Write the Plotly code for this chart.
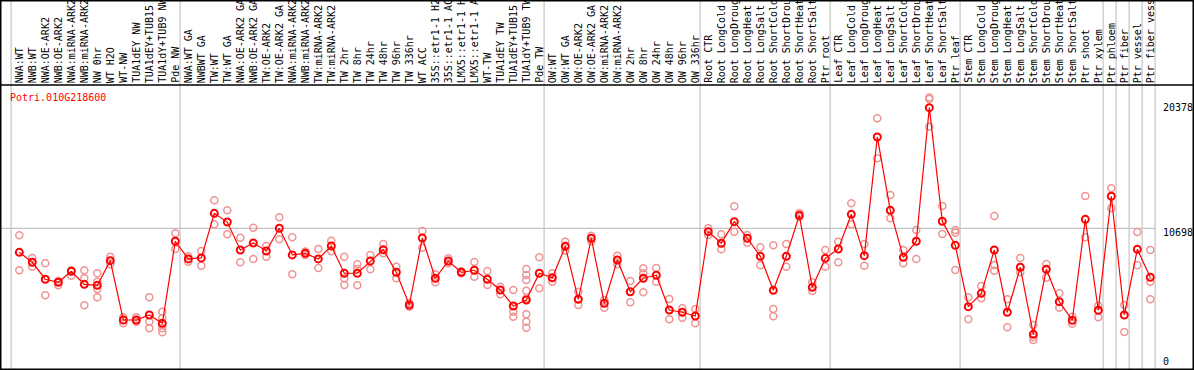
import plotly.graph_objects as go

categories = [
    "NWA:WT", "NWB:WT", "NWA:OE-ARK2", "NWB:OE-ARK2", "NWA:miRNA-ARK2", "NWB:miRNA-ARK2",
    "NW 0hr", "WT H2O", "WT-NW", "TUA1dEY NW", "TUA1dEY+TUB15", "TUA1dY+TUB9 NW", "Pde NW",
    "NWA:WT GA", "NWBWT GA", "TW:WT", "TW:WT GA", "NWA:OE-ARK2 GA", "NWB:OE-ARK2 GA",
    "TW:OE-ARK2", "TW:OE-ARK2 GA", "NWA:miRNA-ARK2", "NWB:miRNA-ARK2", "TW:miRNA-ARK2",
    "TW:miRNA-ARK2", "TW 2hr", "TW 8hr", "TW 24hr", "TW 48hr", "TW 96hr", "TW 336hr",
    "WT ACC", "35S::etr1-1 H2", "35S::etr1-1 AC", "LMX5::etr1-1 H", "LMX5::etr1-1 A",
    "WT-TW", "TUA1dEY TW", "TUA1dEY+TUB15", "TUA1dY+TUB9 TW", "Pde TW",
    "OW:WT", "OW:WT GA", "OW:OE-ARK2", "OW:OE-ARK2 GA", "OW:miRNA-ARK2", "OW:miRNA-ARK2",
    "OW 2hr", "OW 8hr", "OW 24hr", "OW 48hr", "OW 96hr", "OW 336hr",
    "Root CTR", "Root LongCold", "Root LongDroug", "Root LongHeat", "Root LongSalt",
    "Root ShortCold", "Root ShortDrou", "Root ShortHeat", "Root ShortSalt", "Ptr root",
    "Leaf CTR", "Leaf LongCold", "Leaf LongDroug", "Leaf LongHeat", "Leaf LongSalt",
    "Leaf ShortCold", "Leaf ShortDrou", "Leaf ShortHeat", "Leaf ShortSalt", "Ptr leaf",
    "Stem CTR", "Stem LongCold", "Stem LongDroug", "Stem LongHeat", "Stem LongSalt",
    "Stem ShortCold", "Stem ShortDrou", "Stem ShortHeat", "Stem ShortSalt", "Ptr shoot",
    "Ptr xylem", "Ptr phloem", "Ptr fiber", "Ptr vessel", "Ptr fiber vess",
]

mean_values = [
    8770, 7970, 6610, 6370, 7250, 6200, 6120, 8100, 3340, 3340, 3740, 3070, 9660,
    8240, 8320, 11900, 11200, 8960, 9520, 8880, 10700, 8560, 8690, 8240, 9280, 7090,
    7090, 8070, 8980, 7170, 4540, 9920, 6690, 8070, 7170, 7330, 6610, 5750, 4460,
    4940, 7090,
    6730, 9250, 5000, 9900, 4680, 8150, 5610, 6690, 6930, 4140, 3960, 3660,
    10430, 9500, 11230, 9900, 8450, 5720, 8450, 11740, 5960, 8290,
    9040, 11820, 8500, 18030, 12140, 8370, 9660, 20378, 11260, 9330,
    4410, 5480, 8960, 3960, 7570, 2190, 7410, 4810, 3320, 11420,
    4120, 13270, 3740, 9010, 6770,
]

replicate_values = [
    [10140, 7330], [8320, 7620], [7890, 5320], [6470, 6120], [7330, 6890],
    [7330, 6690, 4520], [7090, 6410, 5830, 5160], [8420, 7810], [3560, 3070],
    [3560, 3200], [5160, 3200, 2670], [4010, 3480, 2940, 2670, 2350], [10300, 9040],
    [8020, 8450], [8880, 7700], [12950, 11020], [12140, 10220], [9940, 7970],
    [10750, 8240], [9280, 8420], [11580, 9820], [9980, 7010], [8830, 8560],
    [9040, 7510], [9700, 8850], [8420, 6690, 6150], [7810, 7430, 6120], [8560, 7410],
    [9440, 8690], [7620, 6690], [4700, 4400], [10480, 9140], [7010, 6370],
    [8290, 7890], [7250, 7090], [7990, 6810], [7270, 6150], [6010, 5400],
    [5750, 4010, 3600], [7430, 6950, 6550, 5690, 5080, 3800, 3200, 2720], [8370, 5880],
    [7090, 6410], [9620, 8900], [5610, 4540], [10100, 9650], [4950, 4330],
    [8500, 7810], [6470, 4760], [7490, 7090, 5560], [7510, 6410], [5020, 3400],
    [4280, 3520], [4220, 3070],
    [10700, 10160], [10220, 9010], [12460, 10430], [10160, 9540], [9170, 7730],
    [9330, 4220, 3640], [9440, 7620], [11930, 11600], [6370, 5670], [8960, 7620],
    [9620, 7970], [12710, 11020], [9440, 7700], [19530, 16320], [13370, 11500],
    [8960, 7890], [10560, 8240], [21200, 21080, 18850], [12490, 10240],
    [10560, 10350, 7350],
    [5160, 3400], [6070, 5080], [11690, 7750, 7300], [5000, 2750], [8320, 7170],
    [2940, 1730, 1950], [7830, 6730], [5480, 4330], [3600, 3040], [13290, 9980],
    [4490, 3560], [13910, 12300], [4540, 2380], [10400, 7730], [8960, 6410, 5000],
]

group_starts = [0, 13, 41, 53, 63, 73, 84, 85, 86, 87, 88]
y_tick_values = [20378, 10698, 0]
gene_id = "Potri.010G218600"

W, H = 1194, 370
X0_PX, DX_PX = 19.3, 13.0          # pixel of first category, pixel step
Y0_PX, DY_PX = 361.6, 0.01246      # pixel of value 0, pixels per unit

idx = list(range(len(categories)))
x_range = [(0 - X0_PX) / DX_PX, (W - X0_PX) / DX_PX]
y_range = [(Y0_PX - H) / DY_PX, Y0_PX / DY_PX]

rep_x, rep_y = [], []
for i, reps in enumerate(replicate_values):
    for v in reps:
        rep_x.append(i)
        rep_y.append(v)

fig = go.Figure()
fig.add_trace(go.Scatter(
    x=rep_x, y=rep_y, mode="markers",
    marker=dict(symbol="circle-open", size=7, color="#ef9494", line=dict(width=1.5, color="#ef9494")),
    hoverinfo="skip", showlegend=False, cliponaxis=False,
))
fig.add_trace(go.Scatter(
    x=idx, y=mean_values, mode="lines+markers",
    line=dict(color="#ff0000", width=1.2),
    marker=dict(symbol="circle-open", size=7, color="#ff0000", line=dict(width=2, color="#ff0000")),
    showlegend=False, cliponaxis=False,
))

shapes = []
grid_color = "#c4c4c4"
for k in group_starts:
    xs = k - 0.63
    shapes.append(dict(type="line", xref="x", yref="paper", x0=xs, x1=xs, y0=0, y1=1,
                       line=dict(color=grid_color, width=1.2), layer="below"))
shapes.append(dict(type="line", xref="paper", yref="y", x0=0, x1=(1155.7 / W),
                   y0=10698, y1=10698, line=dict(color=grid_color, width=1.2), layer="below"))
shapes.append(dict(type="line", xref="paper", yref="paper", x0=0, x1=1,
                   y0=1 - 85 / H, y1=1 - 85 / H, line=dict(color="black", width=1.5)))
shapes.append(dict(type="rect", xref="paper", yref="paper", x0=0, x1=1, y0=0, y1=1,
                   line=dict(color="black", width=3)))

font = "DejaVu Sans Mono, monospace"
annotations = []
for i, name in enumerate(categories):
    annotations.append(dict(
        x=i, y=1 - 84 / H, xref="x", yref="paper", text=name, textangle=-90,
        showarrow=False, xanchor="center", yanchor="bottom",
        font=dict(family=font, size=10, color="black"), borderpad=0,
    ))
annotations.append(dict(
    x=9 / W, y=1 - 91 / H, xref="paper", yref="paper", text=gene_id, showarrow=False,
    xanchor="left", yanchor="top", font=dict(family=font, size=10, color="#ff0000"), borderpad=0,
))
shifts = {20378: 0, 10698: -4, 0: 0}
for v in y_tick_values:
    annotations.append(dict(
        x=1162 / W, y=v, xref="paper", yref="y", text=str(v), showarrow=False,
        xanchor="left", yanchor="middle", yshift=shifts[v],
        font=dict(family=font, size=10, color="black"), borderpad=0,
    ))

fig.update_layout(
    width=W, height=H, margin=dict(l=0, r=0, t=0, b=0),
    paper_bgcolor="white", plot_bgcolor="white",
    xaxis=dict(range=x_range, visible=False, fixedrange=True),
    yaxis=dict(range=y_range, visible=False, fixedrange=True),
    shapes=shapes, annotations=annotations, showlegend=False,
)

fig.write_html(
    "out.html",
    config={"displayModeBar": False},
    post_script="document.body.style.margin='0px'; document.body.style.overflow='hidden';",
)
